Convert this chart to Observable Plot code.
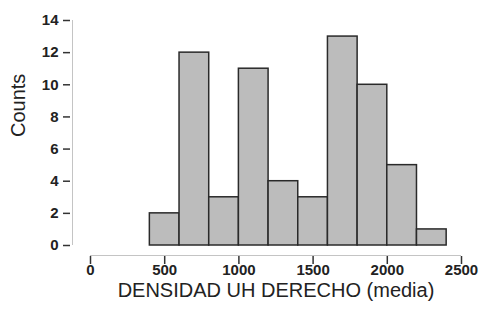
<!DOCTYPE html>
<html>
<head>
<meta charset="utf-8">
<script src="https://cdn.jsdelivr.net/npm/d3@7"></script>
<script src="https://cdn.jsdelivr.net/npm/@observablehq/plot@0.6"></script>
<style>
  html, body { margin: 0; padding: 0; background: #fff; }
  svg { display: block; }
</style>
</head>
<body>
<div id="chart"></div>
<script>
const binStart = [400, 600, 800, 1000, 1200, 1400, 1600, 1800, 2000, 2200];
const binEnd   = [600, 800, 1000, 1200, 1400, 1600, 1800, 2000, 2200, 2400];
const counts   = [2, 12, 3, 11, 4, 3, 13, 10, 5, 1];
const xTicks = [0, 500, 1000, 1500, 2000, 2500];
const yTicks = [0, 2, 4, 6, 8, 10, 12, 14];
const xTitle = "DENSIDAD UH DERECHO (media)";
const yTitle = "Counts";

const bins = binStart.map((s, i) => ({x1: s, x2: binEnd[i], count: counts[i]}));

const chart = Plot.plot({
  width: 483,
  height: 320,
  marginLeft: 90,
  marginRight: 22,
  marginTop: 20,
  marginBottom: 75,
  style: {fontFamily: "'Liberation Sans', Arial, sans-serif", color: "#222", background: "#fff"},
  x: {domain: [0, 2500]},
  y: {domain: [0, 14]},
  marks: [
    Plot.ruleX([0], {y1: 0, y2: 14, dx: -18, stroke: "#c4c4c4", strokeWidth: 1}),
    Plot.ruleY([0], {x1: 0, x2: 2500, dy: 10, stroke: "#c4c4c4", strokeWidth: 1}),
    Plot.axisY({ticks: yTicks, tickSize: 7, dx: -20, tickPadding: 5, fontSize: 15, fontWeight: "bold", label: null, stroke: "#333", strokeWidth: 1.5, tickFormat: d3.format("d")}),
    Plot.axisX({ticks: xTicks, tickSize: 8, dy: 11, tickPadding: 0, fontSize: 15, fontWeight: "bold", label: null, stroke: "#333", strokeWidth: 1.5, tickFormat: d3.format("d")}),
    Plot.rectY(bins, {x1: "x1", x2: "x2", y: "count", fill: "#bcbcbc", stroke: "#2a2a2a", strokeWidth: 1.5}),
    Plot.text([yTitle], {frameAnchor: "left", dx: -72, dy: 4, rotate: -90, fontSize: 20, fill: "#222"}),
    Plot.text([xTitle], {frameAnchor: "bottom", dy: 51, fontSize: 20, fill: "#222"})
  ]
});
document.getElementById("chart").appendChild(chart);
</script>
</body>
</html>
